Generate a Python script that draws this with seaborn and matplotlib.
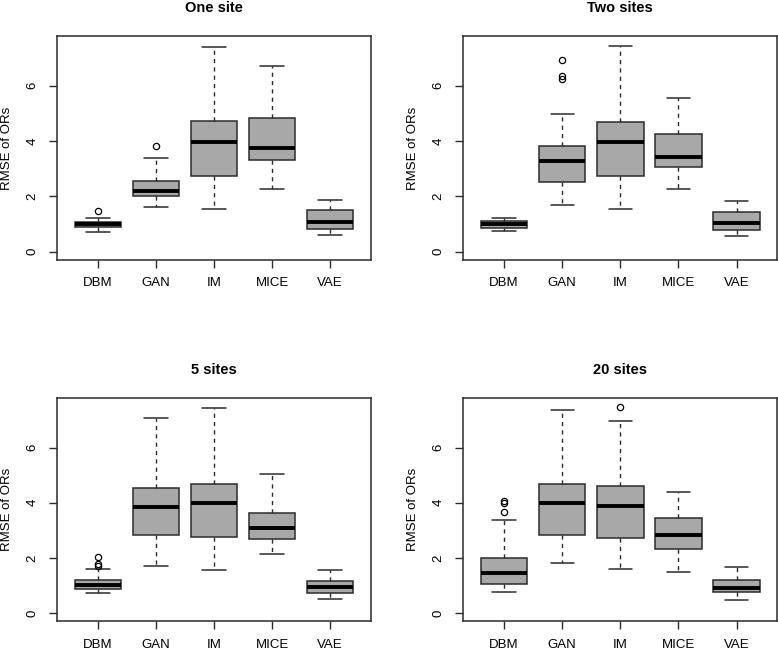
import numpy as np
import pandas as pd
import matplotlib
matplotlib.use("Agg")
import matplotlib.pyplot as plt
import seaborn as sns

methods = ["DBM", "GAN", "IM", "MICE", "VAE"]
panel_titles = ["One site", "Two sites", "5 sites", "20 sites"]

# five-number summaries: [low whisker, Q1, median, Q3, high whisker]
one_site = [
    [0.73, 0.90, 1.00, 1.09, 1.23],
    [1.61, 2.00, 2.18, 2.57, 3.39],
    [1.54, 2.75, 3.96, 4.71, 7.42],
    [2.26, 3.31, 3.74, 4.83, 6.70],
    [0.61, 0.83, 1.08, 1.49, 1.86],
]
one_site_out = [[1.48], [3.81], [], [], []]

two_sites = [
    [0.75, 0.85, 1.00, 1.12, 1.21],
    [1.70, 2.52, 3.29, 3.82, 4.97],
    [1.54, 2.75, 3.96, 4.70, 7.43],
    [2.26, 3.05, 3.43, 4.27, 5.56],
    [0.55, 0.77, 1.02, 1.42, 1.85],
]
two_sites_out = [[], [6.26, 6.36, 6.93], [], [], []]

five_sites = [
    [0.71, 0.88, 1.02, 1.19, 1.58],
    [1.72, 2.83, 3.84, 4.53, 7.06],
    [1.55, 2.74, 3.98, 4.69, 7.42],
    [2.13, 2.67, 3.07, 3.61, 5.03],
    [0.50, 0.72, 0.94, 1.15, 1.56],
]
five_sites_out = [[1.70, 1.76, 2.02], [], [], [], []]

twenty_sites = [
    [0.75, 1.06, 1.44, 2.01, 3.37],
    [1.83, 2.84, 4.00, 4.69, 7.36],
    [1.60, 2.73, 3.88, 4.62, 6.96],
    [1.48, 2.34, 2.84, 3.43, 4.39],
    [0.46, 0.75, 0.90, 1.18, 1.68],
]
twenty_sites_out = [[3.67, 4.00, 4.05], [], [7.47], [], []]

panels = [(one_site, one_site_out), (two_sites, two_sites_out),
          (five_sites, five_sites_out), (twenty_sites, twenty_sites_out)]

sns.set_style("ticks")
plt.rcParams["font.family"] = ["Liberation Sans", "DejaVu Sans"]
plt.rcParams["text.color"] = "black"
plt.rcParams["axes.labelcolor"] = "black"
plt.rcParams["xtick.color"] = "black"
plt.rcParams["ytick.color"] = "black"

fig = plt.figure(figsize=(7.78, 6.49), dpi=100)
rects = [
    [0.0737, 0.5994, 0.4028, 0.3451],
    [0.5955, 0.5994, 0.4036, 0.3451],
    [0.0737, 0.0427, 0.4028, 0.3441],
    [0.5955, 0.0427, 0.4036, 0.3441],
]

edge = "#2b2b2b"
for rect, title, (summ, outl) in zip(rects, panel_titles, panels):
    ax = fig.add_axes(rect)
    stats = []
    for name, s, o in zip(methods, summ, outl):
        stats.append({"label": name, "whislo": s[0], "q1": s[1], "med": s[2],
                      "q3": s[3], "whishi": s[4], "fliers": o})
    ax.bxp(stats, positions=np.arange(1, 6), widths=0.8, capwidths=0.4,
           patch_artist=True, showfliers=True,
           boxprops=dict(facecolor="#a8a8a8", edgecolor=edge, linewidth=1.1),
           medianprops=dict(color="black", linewidth=2.8, solid_capstyle="butt"),
           whiskerprops=dict(color=edge, linewidth=1.0, linestyle=(0, (3, 3))),
           capprops=dict(color=edge, linewidth=1.1),
           flierprops=dict(marker="o", markersize=4.5, markerfacecolor="none",
                           markeredgecolor="black", markeredgewidth=0.9))
    ax.set_xlim(0.3, 5.7)
    ax.set_ylim(-0.3, 7.8)
    ax.set_yticks([0, 2, 4, 6])
    ax.set_yticklabels(["0", "2", "4", "6"], rotation=90, va="center")
    ax.set_xticks(np.arange(1, 6))
    ax.set_xticklabels(methods)
    ax.tick_params(axis="both", length=5.5, width=1.0, color=edge,
                   labelsize=9.5, labelcolor="black", pad=8)
    ax.tick_params(axis="x", pad=7)
    for sp in ax.spines.values():
        sp.set_visible(True)
        sp.set_color(edge)
        sp.set_linewidth(1.1)
    ax.set_ylabel("RMSE of ORs", fontsize=9.5)
    ax.yaxis.set_label_coords(-44 / (rect[2] * 778), 0.5)
    ax.set_title(title, fontsize=10.5, fontweight="bold", pad=17)
    ax.grid(False)

fig.savefig("out.png", dpi=100)
